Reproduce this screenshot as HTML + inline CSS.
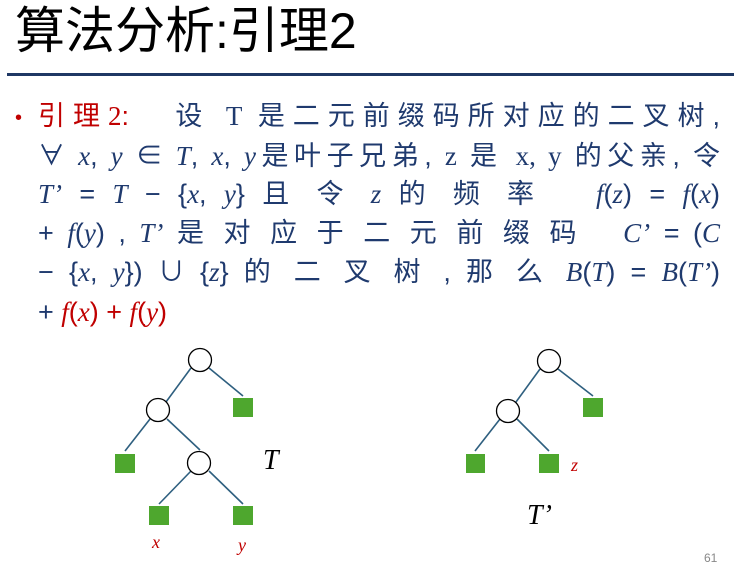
<!DOCTYPE html>
<html><head><meta charset="utf-8"><style>
body{margin:0;width:741px;height:563px;background:#fff;position:relative;overflow:hidden;font-family:"Liberation Sans","Noto Sans CJK SC",sans-serif}
.t{position:absolute;left:15px;top:0px;font-size:50px;color:#000;line-height:62px;white-space:nowrap}
.hr{position:absolute;left:7px;top:73px;width:727px;height:3px;background:#1f3864}
.l{position:absolute;left:38px;width:682px;font-size:27px;line-height:39px;color:#1f3a6e;white-space:nowrap;text-align:justify;text-align-last:justify}
.m{font-family:"Liberation Serif","Noto Serif CJK SC",serif;font-style:italic}
.r{color:#c00000}
.s{font-family:"Liberation Serif",serif}
</style></head><body>
<div class="t">算法分析:引理2</div>
<div class="hr"></div>
<div style="position:absolute;left:15px;top:99px;font-size:20px;line-height:39px;color:#c00000">•</div>
<div class="l" style="top:97px"><span class="r">引理<span class="s">2</span>:</span>&nbsp;&nbsp; 设 <span class="s">T</span> 是二元前缀码所对应的二叉树,</div>
<div class="l" style="top:137px">∀ <span class="m">x</span>, <span class="m">y</span> ∈ <span class="m">T</span>, <span class="m">x</span>, <span class="m">y</span>是叶子兄弟, <span class="s">z</span> 是 <span class="s">x, y</span> 的父亲, 令</div>
<div class="l" style="top:175px"><span class="m">T’</span> = <span class="m">T</span> − {<span class="m">x</span>, <span class="m">y</span>} 且 令 <span class="m">z</span> 的 频 率 &nbsp; <span class="m">f</span>(<span class="m">z</span>) = <span class="m">f</span>(<span class="m">x</span>)</div>
<div class="l" style="top:214px">+ <span class="m">f</span>(<span class="m">y</span>) , <span class="m">T’</span> 是 对 应 于 二 元 前 缀 码 &nbsp; <span class="m">C’</span> = (<span class="m">C</span></div>
<div class="l" style="top:253px">− {<span class="m">x</span>, <span class="m">y</span>}) ∪ {<span class="m">z</span>} 的 二 叉 树 , 那 么 <span class="m">B</span>(<span class="m">T</span>) = <span class="m">B</span>(<span class="m">T’</span>)</div>
<div class="l" style="top:293px;text-align-last:left">+ <span class="r"><span class="m">f</span>(<span class="m">x</span>) + <span class="m">f</span>(<span class="m">y</span>)</span></div>
<svg width="741" height="563" style="position:absolute;left:0;top:0">
<g stroke="#2e5f7f" stroke-width="1.6">
<line x1="191" y1="368" x2="166" y2="402"/><line x1="209" y1="368" x2="243" y2="396"/>
<line x1="150" y1="419" x2="125" y2="451"/><line x1="167" y1="419" x2="200" y2="450"/>
<line x1="191" y1="471" x2="159" y2="504"/><line x1="209" y1="471" x2="243" y2="504"/>
<line x1="540" y1="369" x2="516" y2="402"/><line x1="558" y1="369" x2="593" y2="396"/>
<line x1="500" y1="419" x2="475" y2="451"/><line x1="517" y1="419" x2="549" y2="451"/>
</g>
<g fill="#fff" stroke="#000" stroke-width="1.3">
<circle cx="200" cy="360" r="11.5"/><circle cx="158" cy="410" r="11.5"/><circle cx="199" cy="463" r="11.5"/>
<circle cx="549" cy="361" r="11.5"/><circle cx="508" cy="411" r="11.5"/>
</g>
<g fill="#4ea72e">
<rect x="233" y="398" width="20" height="19"/><rect x="115" y="454" width="20" height="19"/>
<rect x="149" y="506" width="20" height="19"/><rect x="233" y="506" width="20" height="19"/>
<rect x="583" y="398" width="20" height="19"/><rect x="466" y="454" width="19" height="19"/><rect x="539" y="454" width="20" height="19"/>
</g>
<g font-family="Liberation Serif,serif" font-style="italic">
<text x="152" y="548" font-size="18" fill="#c00000">x</text>
<text x="238" y="551" font-size="18" fill="#c00000">y</text>
<text x="571" y="471" font-size="18" fill="#c00000">z</text>
<text x="263" y="469" font-size="28" fill="#000">T</text>
<text x="527" y="524" font-size="28" fill="#000">T’</text>
</g>
<text x="704" y="562" font-size="12" fill="#888" font-family="Liberation Sans,sans-serif">61</text>
</svg>
</body></html>
